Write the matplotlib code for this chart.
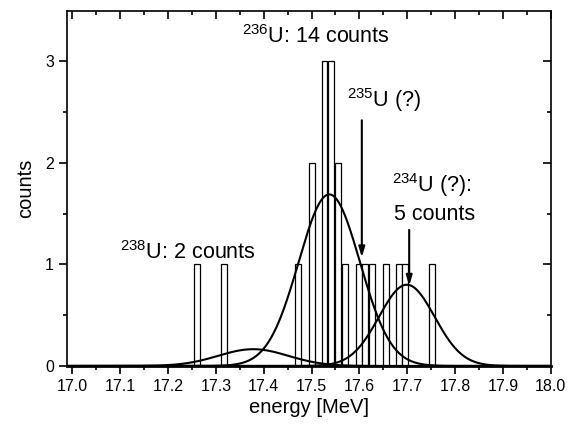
import numpy as np
import matplotlib.pyplot as plt

plt.rcParams['font.family'] = ['Liberation Sans', 'DejaVu Sans']
plt.rcParams['mathtext.fontset'] = 'custom'
plt.rcParams['mathtext.rm'] = 'Liberation Sans'

# histogram of single events (bin centre in MeV, counts)
bin_energy = [17.261, 17.318, 17.471, 17.500, 17.527, 17.540, 17.556, 17.570,
              17.599, 17.612, 17.626, 17.655, 17.683, 17.695, 17.752]
bin_counts = [1, 1, 1, 2, 3, 3, 2, 1, 1, 1, 1, 1, 1, 1, 1]
bin_width = 0.0125

# gaussian fits: 238U, 236U, 234U
fit_center = [17.378, 17.537, 17.699]
fit_height = [0.165, 1.69, 0.80]
fit_sigma = [0.073, 0.064, 0.058]

fig = plt.figure(figsize=(5.78, 4.26), dpi=100)
ax = fig.add_axes([0.116, 0.141, 0.837, 0.834])

ax.bar(bin_energy, bin_counts, width=bin_width, facecolor='white',
       edgecolor='black', linewidth=0.9, zorder=2)

x = np.linspace(16.99, 18.0, 600)
for c, h, s in zip(fit_center, fit_height, fit_sigma):
    ax.plot(x, h * np.exp(-(x - c) ** 2 / (2 * s ** 2)), color='black',
            linewidth=1.5, zorder=3)

fs = 15.5
ax.text(17.355, 3.24, r'$^{236}$U: 14 counts', fontsize=fs, va='center')
ax.text(17.574, 2.62, r'$^{235}$U (?)', fontsize=fs, va='center')
ax.text(17.668, 1.78, r'$^{234}$U (?):', fontsize=fs, va='center')
ax.text(17.672, 1.49, '5 counts', fontsize=fs, va='center')
ax.text(17.099, 1.12, r'$^{238}$U: 2 counts', fontsize=fs, va='center')

arrow = dict(arrowstyle='-|>,head_length=0.6,head_width=0.18', color='black',
             linewidth=1.5, shrinkA=0, shrinkB=0)
ax.annotate('', xy=(17.605, 1.07), xytext=(17.605, 2.42), arrowprops=arrow, zorder=4)
ax.annotate('', xy=(17.704, 0.79), xytext=(17.704, 1.34), arrowprops=arrow, zorder=4)

ax.set_xlim(16.989, 18.0)
ax.set_ylim(0, 3.5)
ax.set_xticks(np.arange(17.0, 18.01, 0.1))
ax.set_xticks(np.arange(17.05, 18.0, 0.1), minor=True)
ax.set_yticks([0, 1, 2, 3])
ax.set_yticks([0.5, 1.5, 2.5], minor=True)
ax.set_xticklabels([f'{v:.1f}' for v in np.arange(17.0, 18.01, 0.1)])

ax.tick_params(axis='both', which='major', direction='out', length=6,
               width=1.2, labelsize=11.5)
ax.tick_params(axis='both', which='minor', direction='out', length=3, width=1.2)
ax.tick_params(top=True, right=True, which='both')
for t in ax.xaxis.get_ticklines(minor=False)[1::2] + ax.xaxis.get_ticklines(minor=True)[1::2]:
    t.set_marker(3)
for t in ax.yaxis.get_ticklines(minor=False)[1::2] + ax.yaxis.get_ticklines(minor=True)[1::2]:
    t.set_marker(0)

for sp in ax.spines.values():
    sp.set_linewidth(1.2)
ax.spines['bottom'].set_linewidth(2)

ax.set_xlabel('energy [MeV]', fontsize=14.5, labelpad=3)
ax.set_ylabel('counts', fontsize=14.5, labelpad=7)

fig.savefig('out.png', dpi=100)
